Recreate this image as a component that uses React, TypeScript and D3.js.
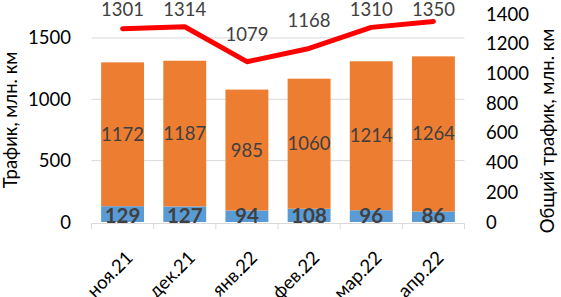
import React, { useEffect } from "react";
import * as d3 from "d3";

const months = ["ноя.21", "дек.21", "янв.22", "фев.22", "мар.22", "апр.22"];
const blueVals = [129, 127, 94, 108, 96, 86];
const orangeVals = [1172, 1187, 985, 1060, 1214, 1264];
const totalVals = [1301, 1314, 1079, 1168, 1310, 1350];
const leftTicks = [0, 500, 1000, 1500];
const rightTicks = [0, 200, 400, 600, 800, 1000, 1200, 1400];

const W = 561;
const H = 297;
const FONT = "Lato, 'Open Sans', sans-serif";
const TXT = "#404040";

const App = () => {
  useEffect(() => {
    document.body.style.margin = "0";
  }, []);

  const x = d3.scaleBand().domain(months).range([91.5, 464.5]).paddingInner(0.31).paddingOuter(0.155);
  const yL = d3.scaleLinear().domain([0, 1695]).range([222, 14]);
  const yR = d3.scaleLinear().domain([0, 1400]).range([222, 14]);
  const cx = (m: string) => (x(m) as number) + x.bandwidth() / 2;

  const line = d3
    .line<number>()
    .x((d, i) => cx(months[i]))
    .y((d) => yR(d));

  const step = x.step();
  const boundaries = d3.range(months.length + 1).map((i) => 91.5 + i * step);

  return (
    <svg width={W} height={H} style={{ display: "block", fontFamily: FONT }}>
      <rect width={W} height={H} fill="#fff" />
      {/* gridlines */}
      {leftTicks.slice(1).map((t) => (
        <line key={t} x1={91.5} x2={464.5} y1={yL(t)} y2={yL(t)} stroke="#D9D9D9" strokeWidth={1} />
      ))}
      {/* bars */}
      {months.map((m, i) => (
        <g key={m}>
          <rect x={x(m)} width={x.bandwidth()} y={yL(blueVals[i])} height={yL(0) - yL(blueVals[i])} fill="#5B9BD5" />
          <rect
            x={x(m)}
            width={x.bandwidth()}
            y={yL(blueVals[i] + orangeVals[i])}
            height={yL(blueVals[i]) - yL(blueVals[i] + orangeVals[i])}
            fill="#ED7D31"
          />
          <text
            x={cx(m)}
            y={(yL(blueVals[i]) + yL(blueVals[i] + orangeVals[i])) / 2 + 6.5}
            textAnchor="middle"
            fontSize={18.5}
            fill={TXT}
          >
            {orangeVals[i]}
          </text>
          <text x={cx(m)} y={222.5} textAnchor="middle" fontSize={20.5} fontWeight="bold" fill={TXT}>
            {blueVals[i]}
          </text>
        </g>
      ))}
      {/* x axis */}
      <line x1={91.5} x2={464.5} y1={223.5} y2={223.5} stroke="#D9D9D9" />
      {boundaries.map((b, i) => (
        <line key={i} x1={b} x2={b} y1={223.5} y2={229} stroke="#D9D9D9" />
      ))}
      {months.map((m) => (
        <text
          key={m}
          transform={`translate(${cx(m) + 11.5},${259}) rotate(-45)`}
          textAnchor="end"
          fontSize={18.5}
          fill="#000"
        >
          {m}
        </text>
      ))}
      {/* total line */}
      <path d={line(totalVals) || ""} fill="none" stroke="#FF0000" strokeWidth={5} strokeLinejoin="round" strokeLinecap="round" />
      {totalVals.map((v, i) => (
        <text key={i} x={cx(months[i])} y={Math.max(15.5, yR(v) - 21)} textAnchor="middle" fontSize={18.5} fill={TXT}>
          {v}
        </text>
      ))}
      {/* left axis */}
      {leftTicks.map((t) => (
        <text key={t} x={71} y={yL(t) + 6.5} textAnchor="end" fontSize={18.5} fill="#000">
          {t}
        </text>
      ))}
      {/* right axis */}
      {rightTicks.map((t) => (
        <text key={t} x={486} y={yR(t) + 6.5} textAnchor="start" fontSize={18.5} fill="#000">
          {t}
        </text>
      ))}
      <text transform={`translate(17,120) rotate(-90)`} textAnchor="middle" fontSize={18.5} fill="#000">
        Трафик, млн. км
      </text>
      <text transform={`translate(554,131) rotate(-90)`} textAnchor="middle" fontSize={18.5} fill="#000">
        Общий трафик, млн. км
      </text>
    </svg>
  );
};

export default App;
